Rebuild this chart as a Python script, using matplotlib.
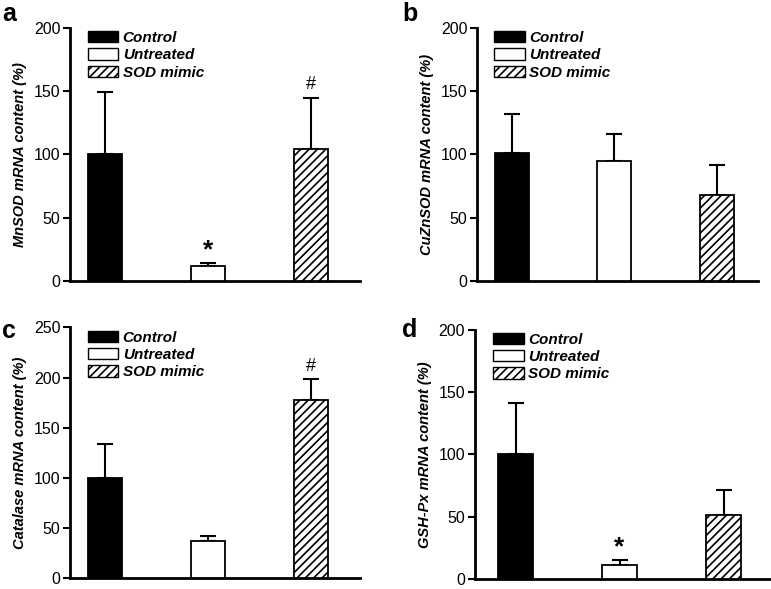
import matplotlib
matplotlib.use("Agg")
import matplotlib.pyplot as plt
import numpy as np

plt.rcParams.update(
    {
        "font.family": ["Liberation Sans", "DejaVu Sans"],
        "hatch.linewidth": 1.2,
        "axes.linewidth": 2.0,
    }
)

GROUPS = ["Control", "Untreated", "SOD mimic"]

MNSOD_MEAN = [100, 12, 104]
MNSOD_TOP = [149, 14, 145]
CUZNSOD_MEAN = [101, 95, 68]
CUZNSOD_TOP = [132, 116, 92]
CATALASE_MEAN = [100, 37, 178]
CATALASE_TOP = [134, 42, 199]
GSHPX_MEAN = [100, 11, 51]
GSHPX_TOP = [141, 15, 71]

# letter, y label, means, error bar tops, y max, marks, axes rect, xlim, letter pos
PANELS = [
    ("a", "MnSOD mRNA content (%)", MNSOD_MEAN, MNSOD_TOP, 200, ["", "*", "#"],
     [0.0908, 0.523, 0.376, 0.4295], (-0.34, 2.48), (0.003, 0.997)),
    ("b", "CuZnSOD mRNA content (%)", CUZNSOD_MEAN, CUZNSOD_TOP, 200, ["", "", ""],
     [0.619, 0.523, 0.364, 0.4295], (-0.335, 2.40), (0.522, 0.997)),
    ("c", "Catalase mRNA content (%)", CATALASE_MEAN, CATALASE_TOP, 250, ["", "", "#"],
     [0.0908, 0.018, 0.376, 0.426], (-0.34, 2.48), (0.003, 0.458)),
    ("d", "GSH-Px mRNA content (%)", GSHPX_MEAN, GSHPX_TOP, 200, ["", "*", ""],
     [0.616, 0.017, 0.39, 0.4235], (-0.39, 2.50), (0.522, 0.46)),
]

FACES = ["black", "white", "white"]
HATCHES = [None, None, "////"]

fig = plt.figure(figsize=(7.71, 5.89), dpi=100)

for letter, ylabel, means, tops, ymax, marks, rect, xlim, lpos in PANELS:
    ax = fig.add_axes(rect)
    x = np.arange(len(GROUPS))
    means = np.asarray(means, dtype=float)
    tops = np.asarray(tops, dtype=float)
    bars = ax.bar(x, means, width=0.33, color=FACES, edgecolor="black",
                  linewidth=1.3, zorder=3)
    for b, h in zip(bars, HATCHES):
        if h:
            b.set_hatch(h)
    ax.errorbar(x, means, yerr=[np.zeros_like(means), tops - means], fmt="none",
                ecolor="black", elinewidth=1.5, capsize=6, capthick=1.5, zorder=2)

    for xi, top, m in zip(x, tops, marks):
        if m == "*":
            ax.annotate("*", (xi, top), xytext=(0, 1), textcoords="offset points",
                        ha="center", va="bottom", fontsize=19, fontweight="bold")
        elif m == "#":
            ax.annotate("#", (xi, top), xytext=(0, 3), textcoords="offset points",
                        ha="center", va="bottom", fontsize=13)

    ax.set_xlim(*xlim)
    ax.set_ylim(0, ymax)
    ax.set_yticks(np.arange(0, ymax + 1, 50))
    ax.set_xticks([])
    ax.tick_params(axis="y", direction="out", length=5, width=1.5, labelsize=11.5, pad=2)
    for side in ("top", "right"):
        ax.spines[side].set_visible(False)
    ax.set_ylabel(ylabel, fontsize=10.5, fontweight="bold", style="italic", labelpad=5)

    handles = [plt.Rectangle((0, 0), 1, 1, facecolor=f, edgecolor="black",
                             linewidth=1.0, hatch=h) for f, h in zip(FACES, HATCHES)]
    ax.legend(handles, GROUPS, loc="upper left", bbox_to_anchor=(0.05, 1.0),
              frameon=False, borderaxespad=0, borderpad=0.2,
              handlelength=2.0, handleheight=0.75, handletextpad=0.3,
              labelspacing=0.22,
              prop={"size": 11, "weight": "bold", "style": "italic"})

    fig.text(lpos[0], lpos[1], letter, fontsize=18, fontweight="bold",
             ha="left", va="top")

fig.savefig("out.png", dpi=100)
